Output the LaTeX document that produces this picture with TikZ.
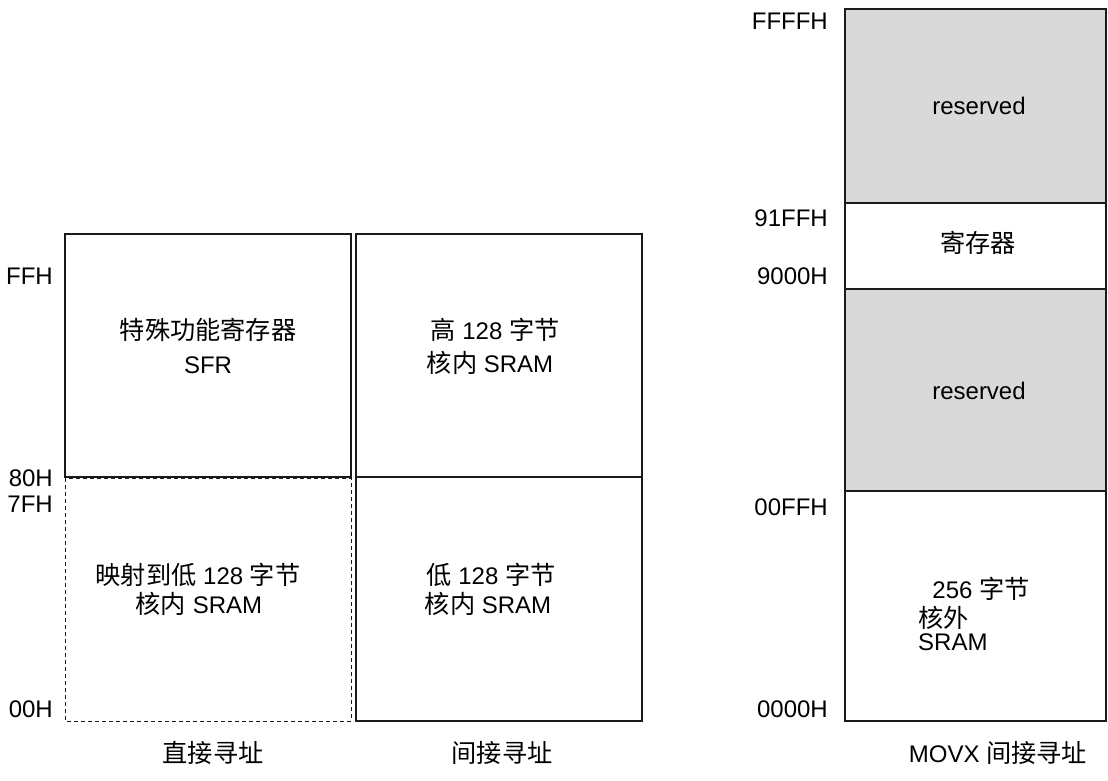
\documentclass[tikz,border=0pt]{standalone}
\usepackage{fontspec}
\setmainfont{Liberation Sans}
\newfontfamily\cjk[Scale=1.05]{Noto Sans CJK SC}
\newcommand{\zh}[1]{{\cjk #1}}
\definecolor{resgray}{HTML}{D9D9D9}
\definecolor{edge}{HTML}{1A1A1A}
\tikzset{
  txt/.style={font=\fontsize{24}{28}\selectfont, inner sep=0pt, text=black},
  addr/.style={txt, anchor=east},
  memline/.style={draw=edge, line width=1.1pt},
  memdash/.style={draw=edge, line width=1pt, dash pattern=on 4pt off 3pt},
  resfill/.style={memline, fill=resgray},
}
\begin{document}
\begin{tikzpicture}[x=1pt, y=-1pt]
\useasboundingbox (0,0) rectangle (1108,780);

% direct addressing column
\draw[memline] (65,234) rectangle (351,477);
\draw[memdash] (65,478) rectangle (351,721);
% indirect addressing column
\draw[memline] (356,234) rectangle (642,721);
\draw[memline] (356,477) -- (642,477);
% MOVX column
\draw[resfill] (845,9) rectangle (1106,203);
\draw[memline] (845,203) rectangle (1106,289);
\draw[resfill] (845,289) rectangle (1106,491);
\draw[memline] (845,491) rectangle (1106,721);

% address labels left
\node[addr] (aFF) at (53,276) {FFH};
\node[addr] (a80) at (53,478) {80H};
\node[addr] (a7F) at (53,504) {7FH};
\node[addr] (a00) at (53,709) {00H};
% address labels right
\node[addr] (rFFFF) at (828,21) {FFFFH};
\node[addr] (r91FF) at (828,218) {91FFH};
\node[addr] (r9000) at (828,276) {9000H};
\node[addr] (r00FF) at (828,507) {00FFH};
\node[addr] (r0000) at (828,709) {0000H};

% texts inside boxes
\node[txt] (sfr1) at (208,330) {\zh{特殊功能寄存器}};
\node[txt] (sfr2) at (208,365) {SFR};
\node[txt] (map1) at (198,575) {\zh{映射到低} 128 \zh{字节}};
\node[txt] (map2) at (199,604) {\zh{核内} SRAM};
\node[txt] (hi1) at (495,330) {\zh{高} 128 \zh{字节}};
\node[txt] (hi2) at (490,363) {\zh{核内} SRAM};
\node[txt] (lo1) at (491,575) {\zh{低} 128 \zh{字节}};
\node[txt] (lo2) at (488,604) {\zh{核内} SRAM};

\node[txt] (res1) at (979,106) {reserved};
\node[txt] (reg) at (978,243) {\zh{寄存器}};
\node[txt] (res2) at (979,391) {reserved};
\node[txt] (ext1) at (981,589) {256 \zh{字节}};
\node[txt, anchor=west] (ext2) at (918,618) {\zh{核外}};
\node[txt, anchor=west] (ext3) at (918,642) {SRAM};

% column captions
\node[txt] (cap1) at (213,753) {\zh{直接寻址}};
\node[txt] (cap2) at (502,753) {\zh{间接寻址}};
\node[txt] (cap3) at (998,753) {MOVX \zh{间接寻址}};
\end{tikzpicture}
\end{document}
